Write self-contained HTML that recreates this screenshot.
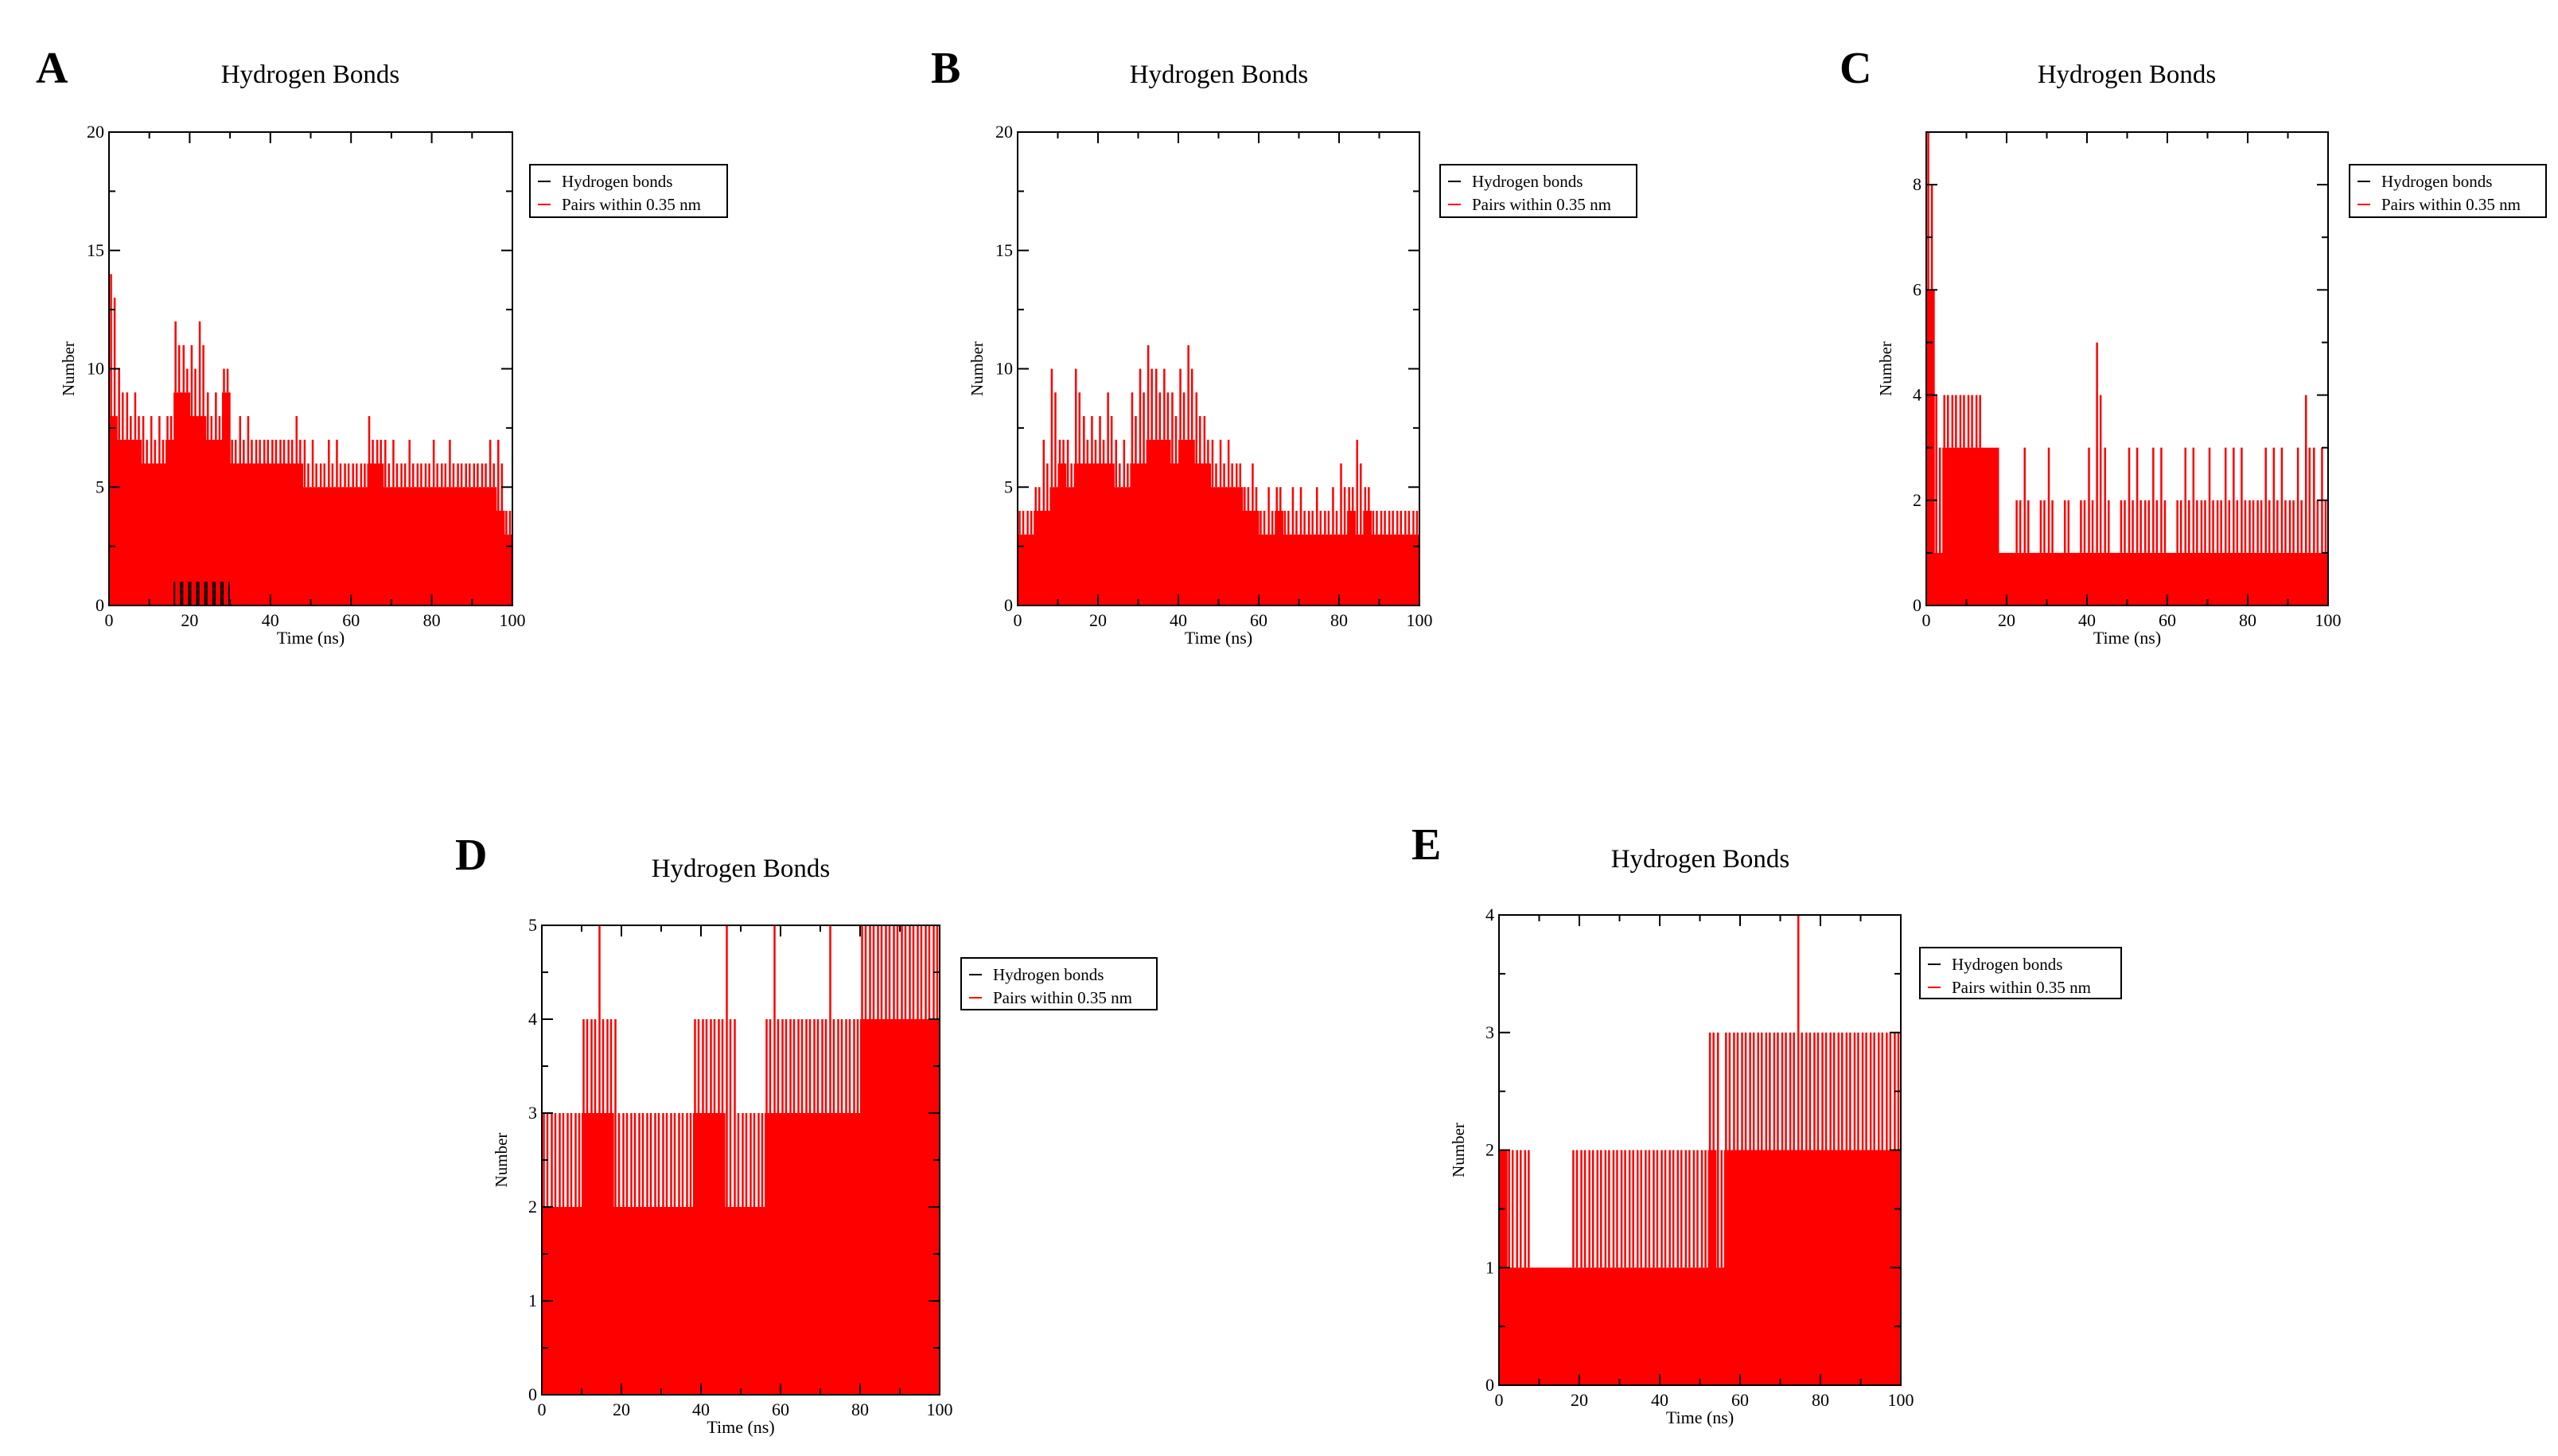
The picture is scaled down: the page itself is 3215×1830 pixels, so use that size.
<!DOCTYPE html>
<html><head><meta charset="utf-8"><style>
html,body{margin:0;padding:0;background:#fff;}
svg{display:block;font-family:"Liberation Serif",serif;}
</style></head><body>
<svg id="fig" width="3215" height="1830" viewBox="0 0 3215 1830" xmlns="http://www.w3.org/2000/svg"></svg>
<script>
const xTicks = [0,20,40,60,80,100];
const levelA = [8,7,7,7,6,6,6,7,9,9,8,8,7,7,9,6,6,6,6,6,6,6,6,6,5,5,5,5,5,5,5,5,6,6,5,5,5,5,5,5,5,5,5,5,5,5,5,5,4,3];
const peakA  = [14,10,9,9,8,8,8,8,12,11,11,12,9,9,10,7,8,8,7,7,7,7,7,8,7,7,6,7,7,6,6,6,8,7,7,7,6,7,6,6,7,6,7,6,6,6,6,7,7,4];
const hbondA = [0,0,0,0,0,0,0,0,1,1,1,1,1,1,1,0,0,0,0,0,0,0,0,0,0,0,0,0,0,0,0,0,0,0,0,0,0,0,0,0,0,0,0,0,0,0,0,0,0,0];
const levelB = [3,3,4,4,5,6,5,6,6,6,6,6,5,5,6,6,7,7,7,6,7,7,6,6,5,5,5,5,4,4,3,3,4,3,3,3,3,3,3,3,3,4,3,4,3,3,3,3,3,3];
const peakB  = [4,4,5,7,10,7,7,10,8,8,8,9,7,7,9,10,11,10,10,9,10,11,9,8,7,7,7,6,5,6,4,5,5,4,5,5,4,5,4,5,6,5,7,5,4,4,4,4,4,4];
const levelC = [6,1,3,3,3,3,3,3,3,1,1,1,1,1,1,1,1,1,1,1,1,1,1,1,1,1,1,1,1,1,1,1,1,1,1,1,1,1,1,1,1,1,1,1,1,1,1,1,1,1];
const peakC  = [9,4,4,4,4,4,4,3,3,1,1,2,3,1,2,3,1,2,1,2,3,5,3,1,2,3,3,2,3,3,1,2,3,3,2,3,2,3,3,3,2,2,3,3,3,2,3,4,3,3];
const levelD = [2,2,2,2,2,3,3,3,3,2,2,2,2,2,2,2,2,2,2,3,3,3,3,2,2,2,2,2,3,3,3,3,3,3,3,3,3,3,3,3,4,4,4,4,4,4,4,4,4,4];
const peakD  = [3,3,3,3,3,4,4,5,4,4,3,3,3,3,3,3,3,3,3,4,4,4,4,5,4,3,3,3,4,5,4,4,4,4,4,4,5,4,4,4,5,5,5,5,5,5,5,5,5,5];
const levelE = [2,1,1,1,1,1,1,1,1,1,1,1,1,1,1,1,1,1,1,1,1,1,1,1,1,1,2,1,2,2,2,2,2,2,2,2,2,2,2,2,2,2,2,2,2,2,2,2,2,2];
const peakE  = [2,2,2,2,1,1,1,1,1,2,2,2,2,2,2,2,2,2,2,2,2,2,2,2,2,2,3,3,3,3,3,3,3,3,3,3,3,4,3,3,3,3,3,3,3,3,3,3,3,3];
const yTicksA = [0,5,10,15,20];
const yTicksC = [0,2,4,6,8];
const yTicksD = [0,1,2,3,4,5];
const yTicksE = [0,1,2,3,4];

const NS='http://www.w3.org/2000/svg';
const svg=document.getElementById('fig');
function mk(tag,attrs,parent){const e=document.createElementNS(NS,tag);for(const k in attrs)e.setAttribute(k,attrs[k]);(parent||svg).appendChild(e);return e;}

const panels=[
 {id:'a',letter:'A',lx:45,ly:104,tx:390,ty:104,x0:137,x1:644,y0:166,y1:761,ymax:20,ymin:2.5,yt:yTicksA,lev:levelA,pk:peakA,hb:hbondA,lg:[666,207,248,66]},
 {id:'b',letter:'B',lx:1170,ly:104,tx:1532,ty:104,x0:1279,x1:1784,y0:166,y1:761,ymax:20,ymin:2.5,yt:yTicksA,lev:levelB,pk:peakB,hb:null,lg:[1810,207,247,66]},
 {id:'c',letter:'C',lx:2312,ly:104,tx:2673,ty:104,x0:2421,x1:2926,y0:166,y1:761,ymax:9,ymin:1,yt:yTicksC,lev:levelC,pk:peakC,hb:null,lg:[2953,207,247,66]},
 {id:'d',letter:'D',lx:572,ly:1093,tx:931,ty:1102,x0:681,x1:1181,y0:1163,y1:1753,ymax:5,ymin:0.5,yt:yTicksD,lev:levelD,pk:peakD,hb:null,lg:[1208,1204,246,65]},
 {id:'e',letter:'E',lx:1774,ly:1080,tx:2137,ty:1090,x0:1884,x1:2389,y0:1150,y1:1741,ymax:4,ymin:0.5,yt:yTicksE,lev:levelE,pk:peakE,hb:null,lg:[2413,1191,253,64]}
];

panels.forEach(p=>{
 const g=mk('g',{});
 
 
 const X=v=>p.x0+(p.x1-p.x0)*v/100;
 const Y=v=>p.y1-(p.y1-p.y0)*v/p.ymax;
 const L=mk('text',{x:p.lx,y:p.ly,'font-size':56,'font-weight':'bold'},g);L.textContent=p.letter;
 
 
 const T=mk('text',{x:p.tx,y:p.ty,'font-size':33,'text-anchor':'middle'},g);T.textContent='Hydrogen Bonds';
 
 
 const n=p.lev.length, bw=100/n;
 const data=mk('g',{},g);
 
 
 for(let i=0;i<n;i++){
  const xa=X(i*bw), xb=X((i+1)*bw);
  const r=mk('rect',{x:xa,y:Y(p.lev[i]),width:xb-xa+0.6,height:Y(0)-Y(p.lev[i]),fill:'#ff0000'},data);
  
  
  if(p.pk[i]>p.lev[i]){
   [0.25,0.7].forEach((f,k)=>{
    const xm=X((i+f)*bw);
    const top=k===0?p.pk[i]:Math.max(p.lev[i]+1,p.pk[i]-1);
    const s=mk('line',{x1:xm,x2:xm,y1:Y(p.lev[i]),y2:Y(top),stroke:'#ff0000','stroke-width':2.5},data);
    
    
   });
  }
  if(p.hb&&p.hb[i]>0){
   const xm=X((i+0.5)*bw);
   for(let k=0;k<2;k++){
    const h=mk('line',{x1:xm-4+k*8,x2:xm-4+k*8,y1:Y(0),y2:Y(p.hb[i]),stroke:'#000','stroke-width':2},data);
    
    
   }
  }
 }
 const fr=mk('rect',{x:p.x0,y:p.y0,width:p.x1-p.x0,height:p.y1-p.y0,fill:'none',stroke:'#000','stroke-width':2},g);
 
 
 for(let v=0;v<=100;v+=10){
  const major=v%20===0, len=major?14:8, x=X(v);
  mk('line',{x1:x,x2:x,y1:p.y1,y2:p.y1-len,stroke:'#000','stroke-width':2},g);
  mk('line',{x1:x,x2:x,y1:p.y0,y2:p.y0+len,stroke:'#000','stroke-width':2},g);
 }
 xTicks.forEach(v=>{const t=mk('text',{x:X(v),y:p.y1+26,'font-size':22,'text-anchor':'middle'},g);t.textContent=v;
  
  });
 for(let v=0;v<=p.ymax+1e-9;v+=p.ymin){
  const major=p.yt.some(t=>Math.abs(t-v)<1e-9), len=major?14:8, y=Y(v);
  mk('line',{x1:p.x0,x2:p.x0+len,y1:y,y2:y,stroke:'#000','stroke-width':2},g);
  mk('line',{x1:p.x1,x2:p.x1-len,y1:y,y2:y,stroke:'#000','stroke-width':2},g);
 }
 p.yt.forEach(v=>{const t=mk('text',{x:p.x0-6,y:Y(v)+7,'font-size':22,'text-anchor':'end'},g);t.textContent=v;
  
  });
 const xl=mk('text',{x:(p.x0+p.x1)/2,y:p.y1+48,'font-size':22,'text-anchor':'middle'},g);xl.textContent='Time (ns)';
 
 
 const yx=p.x0-44, yy=(p.y0+p.y1)/2;
 const yl=mk('text',{x:yx,y:yy,'font-size':21,'text-anchor':'middle',transform:`rotate(-90 ${yx} ${yy})`},g);yl.textContent='Number';
 
 
 const [lx,ly,lw,lh]=p.lg;
 const lg=mk('g',{},g);
 
 
 mk('rect',{x:lx,y:ly,width:lw,height:lh,fill:'#fff',stroke:'#000','stroke-width':2},lg);
 mk('line',{x1:lx+10,x2:lx+26,y1:ly+21,y2:ly+21,stroke:'#000','stroke-width':2},lg);
 mk('line',{x1:lx+10,x2:lx+26,y1:ly+50,y2:ly+50,stroke:'#ff0000','stroke-width':2},lg);
 const t1=mk('text',{x:lx+40,y:ly+28,'font-size':21},lg);t1.textContent='Hydrogen bonds';
 
 
 const t2=mk('text',{x:lx+40,y:ly+57,'font-size':21},lg);t2.textContent='Pairs within 0.35 nm';
 
 
});
</script>
</body></html>
